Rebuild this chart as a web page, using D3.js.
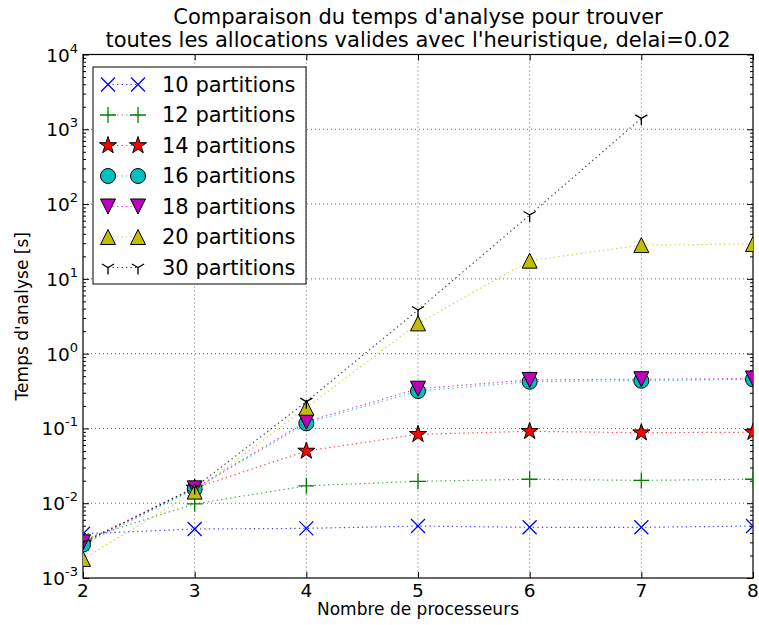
<!DOCTYPE html>
<html><head><meta charset="utf-8">
<script src="https://cdn.jsdelivr.net/npm/d3@7"></script>
<style>body{margin:0;background:#fff;} svg{display:block;font-family:"DejaVu Sans",sans-serif;}</style>
</head><body>
<script>
const processors = [2, 3, 4, 5, 6, 7, 8];
const seriesNames = ["10 partitions","12 partitions","14 partitions","16 partitions","18 partitions","20 partitions","30 partitions"];
const p10 = [0.0039, 0.00452, 0.00461, 0.00495, 0.00476, 0.00476, 0.00495];
const p12 = [0.0033, 0.0098, 0.0171, 0.0196, 0.0209, 0.0202, 0.0209];
const p14 = [0.0029, 0.0160, 0.0499, 0.0834, 0.0915, 0.0877, 0.0890];
const p16 = [0.0028, 0.0155, 0.117, 0.316, 0.421, 0.434, 0.453];
const p18 = [0.0030, 0.0158, 0.123, 0.340, 0.445, 0.455, 0.465];
const p20 = [0.0018, 0.0143, 0.189, 2.54, 17.5, 28.3, 29.2];
const p30 = [0.0030, 0.0162, 0.228, 3.83, 71.3, 1400];
const xTicks = [2, 3, 4, 5, 6, 7, 8];
const yTickExps = [-3, -2, -1, 0, 1, 2, 3, 4];
const titleLines = ["Comparaison du temps d'analyse pour trouver", "toutes les allocations valides avec l'heuristique, delai=0.02"];
const xLabel = "Nombre de processeurs";
const yLabel = "Temps d'analyse [s]";

const W = 759, H = 625;
const L = 83, R = 753, T = 54.5, B = 578;
const svg = d3.select("body").append("svg").attr("width", W).attr("height", H);

const x = d3.scaleLinear().domain([2, 8]).range([L, R]);
const y = d3.scaleLog().domain([1e-3, 1e4]).range([B, T]);

svg.append("defs").append("clipPath").attr("id", "clip").append("rect").attr("x", L).attr("y", T).attr("width", R - L).attr("height", B - T);

// grid
const grid = svg.append("g").attr("stroke", "#000").attr("stroke-width", 0.8).attr("stroke-dasharray", "1,3").attr("opacity", 0.75);
xTicks.slice(1, -1).forEach(v => grid.append("line").attr("x1", x(v)).attr("x2", x(v)).attr("y1", T).attr("y2", B));
yTickExps.slice(1, -1).forEach(e => grid.append("line").attr("x1", L).attr("x2", R).attr("y1", y(Math.pow(10, e))).attr("y2", y(Math.pow(10, e))));

// axes (ticks inward)
const axG = svg.append("g");
axG.append("g").attr("transform", `translate(0,${B})`).call(d3.axisBottom(x).tickValues(xTicks).tickSize(-6).tickFormat(""));
axG.append("g").attr("transform", `translate(0,${T})`).call(d3.axisTop(x).tickValues(xTicks).tickSize(-6).tickFormat(""));
const minorVals = [];
for (let e = -3; e < 4; e++) for (let m = 2; m <= 9; m++) minorVals.push(m * Math.pow(10, e));
const majorVals = yTickExps.map(e => Math.pow(10, e));
axG.append("g").attr("transform", `translate(${L},0)`).call(d3.axisLeft(y).tickValues(majorVals).tickSize(-6).tickFormat(""));
axG.append("g").attr("transform", `translate(${R},0)`).call(d3.axisRight(y).tickValues(majorVals).tickSize(-6).tickFormat(""));
axG.append("g").attr("transform", `translate(${L},0)`).call(d3.axisLeft(y).tickValues(minorVals).tickSize(-3).tickFormat(""));
axG.append("g").attr("transform", `translate(${R},0)`).call(d3.axisRight(y).tickValues(minorVals).tickSize(-3).tickFormat(""));
axG.selectAll(".domain").remove();
axG.selectAll("line").attr("stroke", "#000").attr("stroke-width", 1);

// tick labels
xTicks.forEach(v => svg.append("text").attr("x", x(v)).attr("y", B + 19).attr("text-anchor", "middle").attr("font-size", 18.5).attr("fill", "#000").text(v));
yTickExps.forEach(e => {
  const t = svg.append("text").attr("x", L - 5).attr("y", y(Math.pow(10, e)) + 7).attr("text-anchor", "end").attr("font-size", 18.5).attr("fill", "#000");
  t.append("tspan").text("10");
  t.append("tspan").attr("dy", -9).attr("font-size", 13).text(e);
});

// frame
svg.append("rect").attr("x", L).attr("y", T).attr("width", R - L).attr("height", B - T).attr("fill", "none").attr("stroke", "#000").attr("stroke-width", 1.2);

// title & labels
titleLines.forEach((s, i) => svg.append("text").attr("x", (L + R) / 2).attr("y", 24 + i * 23).attr("text-anchor", "middle").attr("font-size", 21).attr("fill", "#000").text(s));
svg.append("text").attr("x", (L + R) / 2).attr("y", 615).attr("text-anchor", "middle").attr("font-size", 17).attr("fill", "#000").text(xLabel);
svg.append("text").attr("transform", `translate(28,${(T + B) / 2}) rotate(-90)`).attr("text-anchor", "middle").attr("font-size", 17).attr("fill", "#000").text(yLabel);

// custom markers
const symTimes = { draw(c, s) { const r = Math.sqrt(s) / 2; c.moveTo(-r, -r); c.lineTo(r, r); c.moveTo(-r, r); c.lineTo(r, -r); } };
const symPlus = { draw(c, s) { const r = Math.sqrt(s) / 2; c.moveTo(-r, 0); c.lineTo(r, 0); c.moveTo(0, -r); c.lineTo(0, r); } };
const symStar = { draw(c, s) { const R0 = Math.sqrt(s) / 2, ri = R0 * 0.381966; for (let i = 0; i < 10; i++) { const a = -Math.PI / 2 + i * Math.PI / 5, rr = i % 2 ? ri : R0; const px = rr * Math.cos(a), py = rr * Math.sin(a); i ? c.lineTo(px, py) : c.moveTo(px, py); } c.closePath(); } };
const symCircle = { draw(c, s) { const r = Math.sqrt(s) / 2; c.moveTo(r, 0); c.arc(0, 0, r, 0, 2 * Math.PI); } };
const symTriDown = { draw(c, s) { const r = Math.sqrt(s) / 2; c.moveTo(-r, -r); c.lineTo(r, -r); c.lineTo(0, r); c.closePath(); } };
const symTriUp = { draw(c, s) { const r = Math.sqrt(s) / 2; c.moveTo(0, -r); c.lineTo(r, r); c.lineTo(-r, r); c.closePath(); } };
const symTri1 = { draw(c, s) { const r = Math.sqrt(s) / 2; c.moveTo(0, 0); c.lineTo(0, r); c.moveTo(0, 0); c.lineTo(-r * 0.866, -r * 0.5); c.moveTo(0, 0); c.lineTo(r * 0.866, -r * 0.5); } };

const series = [
  { name: seriesNames[0], vals: p10, color: "#0000ff", sym: symTimes, size: 14, fill: "none", stroke: "#0000ff", sw: 1.3 },
  { name: seriesNames[1], vals: p12, color: "#008000", sym: symPlus, size: 16, fill: "none", stroke: "#008000", sw: 1.3 },
  { name: seriesNames[2], vals: p14, color: "#ff0000", sym: symStar, size: 18, fill: "#ff0000", stroke: "#000", sw: 1 },
  { name: seriesNames[3], vals: p16, color: "#00bfbf", sym: symCircle, size: 15, fill: "#00bfbf", stroke: "#000", sw: 1 },
  { name: seriesNames[4], vals: p18, color: "#bf00bf", sym: symTriDown, size: 15, fill: "#bf00bf", stroke: "#000", sw: 1 },
  { name: seriesNames[5], vals: p20, color: "#bfbf00", sym: symTriUp, size: 15, fill: "#bfbf00", stroke: "#000", sw: 1 },
  { name: seriesNames[6], vals: p30, color: "#000000", sym: symTri1, size: 14, fill: "none", stroke: "#000", sw: 1.3 }
];

const plot = svg.append("g").attr("clip-path", "url(#clip)");
const line = d3.line().x((d, i) => x(processors[i])).y(d => y(d));
series.forEach(s => {
  plot.append("path").attr("d", line(s.vals)).attr("fill", "none").attr("stroke", s.color).attr("stroke-width", 1.2).attr("stroke-dasharray", "1.3,3.2").attr("opacity", 0.75);
  const sym = d3.symbol().type(s.sym).size(s.size * s.size);
  s.vals.forEach((v, i) => {
    plot.append("path").attr("d", sym()).attr("transform", `translate(${x(processors[i])},${y(v)})`)
      .attr("fill", s.fill).attr("stroke", s.stroke).attr("stroke-width", s.sw);
  });
});

// legend
const lg = svg.append("g");
lg.append("rect").attr("x", 93).attr("y", 67).attr("width", 213).attr("height", 217).attr("fill", "#fff").attr("stroke", "#000").attr("stroke-width", 1);
series.forEach((s, i) => {
  const cy = 84.5 + i * 30.5;
  lg.append("line").attr("x1", 108).attr("x2", 138).attr("y1", cy).attr("y2", cy).attr("stroke", s.color).attr("stroke-width", 1.2).attr("stroke-dasharray", "1.3,3.2").attr("opacity", 0.75);
  const sym = d3.symbol().type(s.sym).size(s.size * s.size);
  [108, 138].forEach(mx => lg.append("path").attr("d", sym()).attr("transform", `translate(${mx},${cy})`).attr("fill", s.fill).attr("stroke", s.stroke).attr("stroke-width", s.sw));
  lg.append("text").attr("x", 162).attr("y", cy + 7).attr("font-size", 21).attr("fill", "#000").text(s.name);
});
</script>
</body></html>
